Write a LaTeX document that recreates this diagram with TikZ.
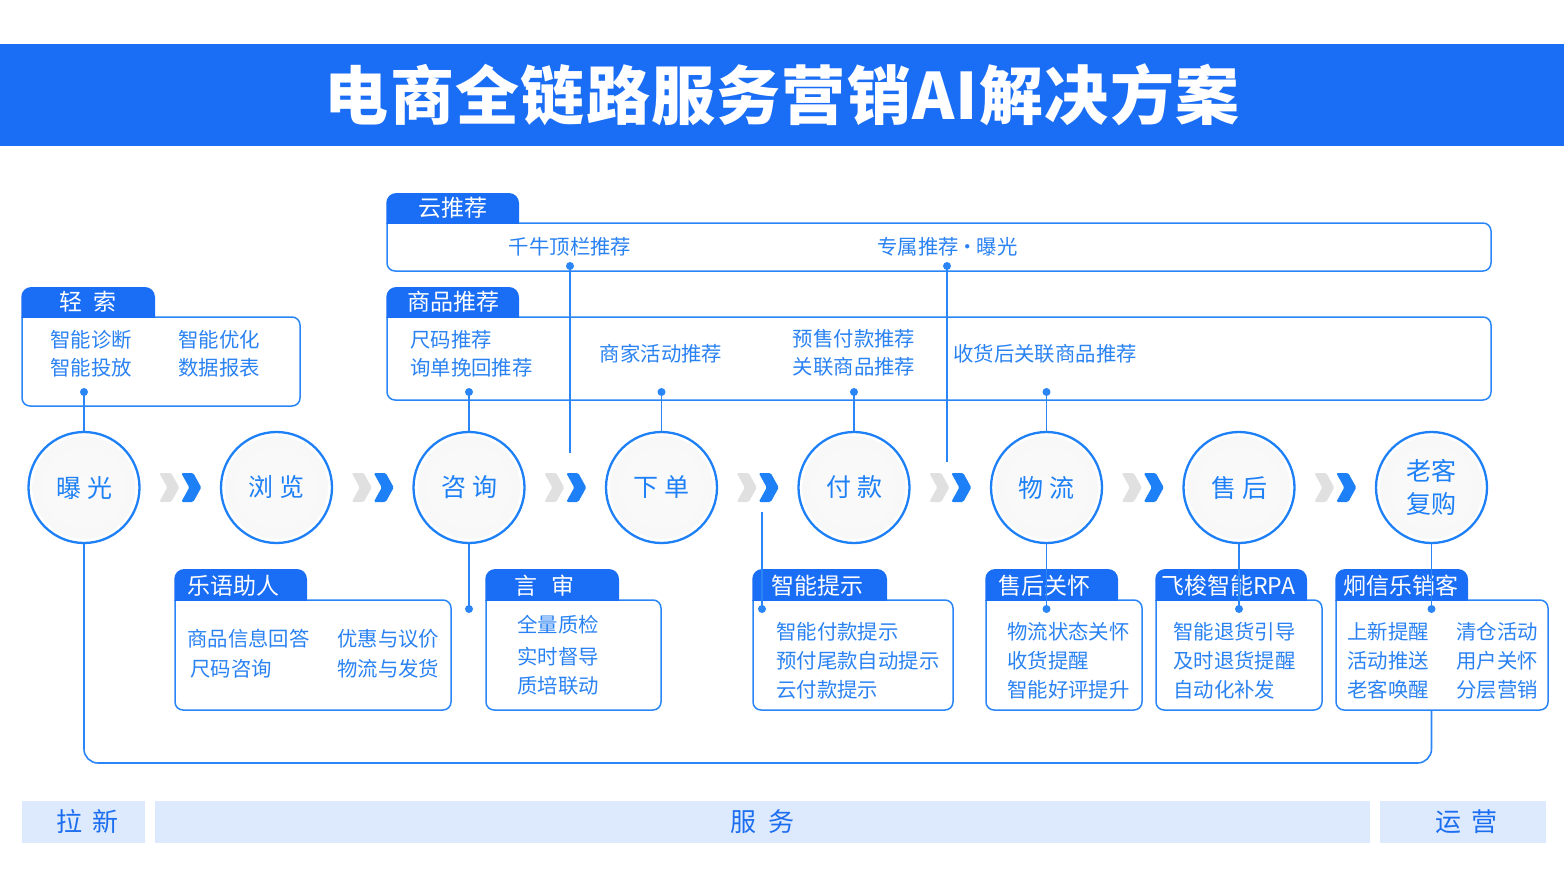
\documentclass[tikz,border=0pt]{standalone}
\usepackage{fontspec}
\setmainfont{Noto Sans CJK SC}
\usetikzlibrary{calc}
\definecolor{tblue}{HTML}{1A6DF5}
\definecolor{lblue}{HTML}{2A86F6}
\definecolor{txblue}{HTML}{2A82F2}
\definecolor{cblue}{HTML}{1E80F6}
\definecolor{cgray}{HTML}{E0E0E0}
\definecolor{barbg}{HTML}{DDE9FD}
\definecolor{bartx}{HTML}{1C6EF0}
\pgfdeclareradialshading{ringshade}{\pgfpoint{0bp}{0bp}}{color(0bp)=(black!2); color(34bp)=(black!3); color(50bp)=(black!11)}
\newcommand\mypanel[6]{%
  \draw[boxline] (#1,#4) -- (#5,#4) -- (#5,#6) -- (#1,#6) -- (#1,#4);
  \fill[tblue, rounded corners=10pt] ({#1-0.75},{#4+0.75}) -- ({#1-0.75},#3) -- (#2,#3) -- (#2,{#4+0.75});
}
\tikzset{
  stage/.style={circle, draw=cblue, line width=2.3pt, minimum size=111pt, inner sep=0pt,
    text=cblue, font=\fontsize{25}{33}\selectfont, align=center,
    path picture={\shade[shading=ringshade] (path picture bounding box.center) circle (51.5pt);}},
  link/.style={draw=lblue, line width=1.6pt},
  dotn/.style={circle, fill=lblue, inner sep=0pt, minimum size=8pt},
  boxline/.style={draw=lblue, line width=1.5pt, rounded corners=8pt},
  tabtxt/.style={text=white, font=\fontsize{23}{28}\selectfont, inner sep=0pt},
  itm/.style={text=txblue, font=\fontsize{20.4}{24}\selectfont, inner sep=0pt, anchor=west},
  itmc/.style={itm, anchor=center},
  bar/.style={fill=barbg, text=bartx, font=\fontsize{26}{30}\selectfont, minimum height=42pt, inner sep=0pt},
  chevpair/.pic={
    \fill[cgray, rounded corners=1.5pt] (-21,-14.5) -- (-9,-14.5) -- (-1,0) -- (-9,14.5) -- (-21,14.5) -- (-13,0) -- cycle;
    \fill[cblue, rounded corners=1.5pt] (1,-14.5) -- (13,-14.5) -- (21,0) -- (13,14.5) -- (1,14.5) -- (9,0) -- cycle;
  }
}
\begin{document}
\begin{tikzpicture}[x=1pt, y=-1pt]
\useasboundingbox (0,0) rectangle (1564,873);

% title bar
\node[fill=tblue, minimum width=1564pt, minimum height=102pt, inner sep=0pt, anchor=north west,
  text=white, font=\fontsize{64}{70}\selectfont\bfseries\addfontfeature{LetterSpace=2}] (title) at (0,44) {电商全链路服务营销AI解决方案};

% panels
\mypanel{22}{155}{287}{317}{300}{406}
\mypanel{387}{519}{193}{223}{1491}{271}
\mypanel{387}{519}{287}{317}{1491}{400}
\mypanel{175}{307}{569}{600}{451}{710}
\mypanel{486}{619}{569}{600}{661}{710}
\mypanel{753}{887}{569}{600}{953}{710}
\mypanel{986}{1118}{569}{600}{1142}{710}
\mypanel{1156}{1307}{569}{600}{1322}{710}
\mypanel{1336}{1468}{569}{600}{1548}{710}

% tab titles
\node[tabtxt] (h1) at (88,302) {轻\hspace{12pt}索};
\node[tabtxt] (h2) at (453,208) {云推荐};
\node[tabtxt] (h3) at (453,302) {商品推荐};
\node[tabtxt, anchor=west] (h4) at (187,586) {乐语助人};
\node[tabtxt, anchor=west] (h5) at (514,586) {言\hspace{14pt}审};
\node[tabtxt, anchor=west] (h6) at (771,586) {智能提示};
\node[tabtxt, anchor=west] (h7) at (998,586) {售后关怀};
\node[tabtxt, anchor=west] (h8) at (1161,586) {飞梭智能RPA};
\node[tabtxt, anchor=west] (h9) at (1343,586) {炯信乐销客};

% panel items
\node[itm] (a1) at (50,340) {智能诊断};
\node[itm] (a2) at (50,368) {智能投放};
\node[itm] (a3) at (178,340) {智能优化};
\node[itm] (a4) at (178,368) {数据报表};

\node[itmc] (b1) at (570,247) {千牛顶栏推荐};
\node[itmc] (b2) at (947.5,247) {专属推荐\makebox[18pt]{·}曝光};

\node[itm] (p1) at (410,340) {尺码推荐};
\node[itm] (p2) at (410,368) {询单挽回推荐};
\node[itmc] (p3) at (661,354) {商家活动推荐};
\node[itmc] (p4) at (854,339) {预售付款推荐};
\node[itmc] (p5) at (854,367) {关联商品推荐};
\node[itm] (p6) at (953,354) {收货后关联商品推荐};

\node[itm] (q1) at (187,639) {商品信息回答};
\node[itm] (q2) at (190,669) {尺码咨询};
\node[itm] (q3) at (337,639) {优惠与议价};
\node[itm] (q4) at (337,669) {物流与发货};

\node[itm] (r1) at (517,625) {全量质检};
\node[itm] (r2) at (517,656.5) {实时督导};
\node[itm] (r3) at (517,686) {质培联动};

\node[itm] (s1) at (776,632) {智能付款提示};
\node[itm] (s2) at (776,661) {预付尾款自动提示};
\node[itm] (s3) at (776,690) {云付款提示};

\node[itm] (u1) at (1007,632) {物流状态关怀};
\node[itm] (u2) at (1007,661) {收货提醒};
\node[itm] (u3) at (1007,690) {智能好评提升};

\node[itm] (v1) at (1173,632) {智能退货引导};
\node[itm] (v2) at (1173,661) {及时退货提醒};
\node[itm] (v3) at (1173,690) {自动化补发};

\node[itm] (w1) at (1347,632) {上新提醒};
\node[itm] (w2) at (1347,661) {活动推送};
\node[itm] (w3) at (1347,690) {老客唤醒};
\node[itm] (w4) at (1456,632) {清仓活动};
\node[itm] (w5) at (1456,661) {用户关怀};
\node[itm] (w6) at (1456,690) {分层营销};

% stage circles
\node[stage] (c1) at (84,487.5) {曝\hspace{6pt}光};
\node[stage] (c2) at (276.5,487.5) {浏\hspace{6pt}览};
\node[stage] (c3) at (469,487.5) {咨\hspace{6pt}询};
\node[stage] (c4) at (661.5,487.5) {下\hspace{6pt}单};
\node[stage] (c5) at (854,487.5) {付\hspace{6pt}款};
\node[stage] (c6) at (1046.5,487.5) {物\hspace{6pt}流};
\node[stage] (c7) at (1239,487.5) {售\hspace{6pt}后};
\node[stage] (c8) at (1431.5,487.5) {老客\\复购};

% chevrons
\foreach \m in {180.25,372.75,565.25,757.75,950.25,1142.75,1335.25}
  \pic at (\m,487.5) {chevpair};

% dots and end points
\node[dotn] (d0) at (84,392) {};
\node[dotn] (dt1) at (570,266) {};
\node[dotn] (dt2) at (947,266) {};
\node[dotn] (dp1) at (469,392) {};
\node[dotn] (dp2) at (661.5,392) {};
\node[dotn] (dp3) at (854,392) {};
\node[dotn] (dp4) at (1046.5,392) {};
\node[dotn] (db1) at (469,609) {};
\node[dotn] (db2) at (762,609) {};
\node[dotn] (db3) at (1046.5,609) {};
\node[dotn] (db4) at (1239,609) {};
\node[dotn] (db5) at (1431.5,609) {};
\coordinate (e1) at (570,453);
\coordinate (e2) at (947,462);
\coordinate (e3) at (762,512);
\coordinate (kb) at (1431.5,710);
\coordinate (lc) at (1431.5,763);

% connectors
\draw[link] (d0.center) -- (c1.north);
\draw[link] (dt1.center) -- (e1);
\draw[link] (dt2.center) -- (e2);
\draw[link] (dp1.center) -- (c3.north);
\draw[link] (dp2.center) -- (c4.north);
\draw[link] (dp3.center) -- (c5.north);
\draw[link] (dp4.center) -- (c6.north);
\draw[link] (c3.south) -- (db1.center);
\draw[link] (e3) -- (db2.center);
\draw[link] (c6.south) -- (db3.center);
\draw[link] (c7.south) -- (db4.center);
\draw[link] (c8.south) -- (db5.center);
\draw[link, rounded corners=14pt] (c1.south) |- (lc) -- (kb);

% bottom bars
\node[bar, minimum width=123pt] (bar1) at (83.5,822) {\hspace{8pt}拉\hspace{10pt}新};
\node[bar, minimum width=1215pt] (bar2) at (762.5,822) {服\hspace{12pt}务};
\node[bar, minimum width=166pt] (bar3) at (1463,822) {\hspace{6pt}运\hspace{10pt}营};
\end{tikzpicture}
\end{document}
